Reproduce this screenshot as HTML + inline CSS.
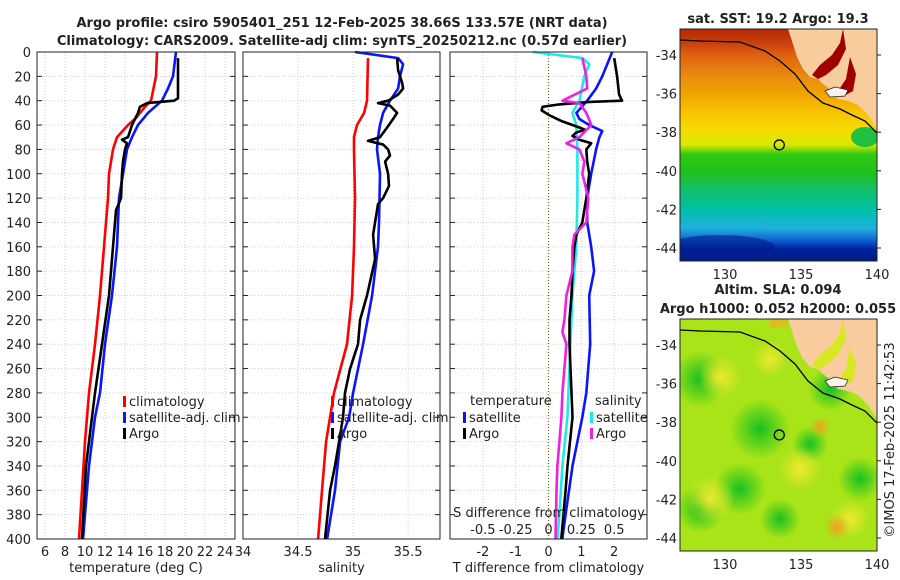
<!DOCTYPE html>
<html><head><meta charset="utf-8">
<style>
html,body{margin:0;padding:0;background:#fff;}
svg{display:block;font-family:"DejaVu Sans","Liberation Sans",sans-serif;}
</style></head>
<body>
<svg id="chart" width="900" height="580" viewBox="0 0 900 580" xmlns="http://www.w3.org/2000/svg">
<defs>
<linearGradient id="sstGrad" x1="0" y1="0" x2="0" y2="1">
<stop offset="0" stop-color="#b82800"/><stop offset="0.06" stop-color="#c84010"/>
<stop offset="0.11" stop-color="#e06010"/><stop offset="0.2" stop-color="#e88a10"/>
<stop offset="0.28" stop-color="#f0a400"/><stop offset="0.36" stop-color="#f8c400"/>
<stop offset="0.44" stop-color="#f4dc00"/><stop offset="0.5" stop-color="#d8e800"/>
<stop offset="0.54" stop-color="#30c810"/><stop offset="0.62" stop-color="#20c020"/>
<stop offset="0.7" stop-color="#10c070"/><stop offset="0.78" stop-color="#00c0a8"/>
<stop offset="0.86" stop-color="#20b0e0"/><stop offset="0.91" stop-color="#1060d0"/>
<stop offset="0.95" stop-color="#0020a0"/><stop offset="1" stop-color="#001c80"/>
</linearGradient>
<radialGradient id="gblob"><stop offset="0" stop-color="#18c020"/><stop offset="1" stop-color="#18c020" stop-opacity="0"/></radialGradient>
<radialGradient id="yblob"><stop offset="0" stop-color="#f0e830"/><stop offset="1" stop-color="#f0e830" stop-opacity="0"/></radialGradient>
<radialGradient id="oblob"><stop offset="0" stop-color="#f0a020"/><stop offset="1" stop-color="#f0a020" stop-opacity="0"/></radialGradient>
</defs>
</svg>
<script>
// ---------------- data ----------------
const depthTicks = [0,20,40,60,80,100,120,140,160,180,200,220,240,260,280,300,320,340,360,380,400];
const tempTicks = [6,8,10,12,14,16,18,20,22,24];
const salTicks = [34,34.5,35,35.5];
const salTickLabels = ["34","34.5","35","35.5"];
const tdiffTicks = [-2,-1,0,1,2];
const sdiffTicks = [-0.5,-0.25,0,0.25,0.5];
const sdiffTickLabels = ["-0.5","-0.25","0","0.25","0.5"];

const tClimDepth = [0,20,40,45,55,60,70,80,100,120,160,200,240,280,320,360,400];
const tClim = [17.2,17.1,16.6,16.0,15.0,14.3,13.2,12.8,12.4,12.3,11.9,11.5,11.0,10.4,10.0,9.7,9.4];
const tSatDepth = [0,20,30,40,50,60,70,80,100,120,160,200,240,280,300,340,400];
const tSat = [19.1,18.8,18.3,17.7,16.3,15.3,14.7,14.2,13.8,13.4,13.2,12.7,12.0,11.5,11.0,10.4,9.8];
const tArgoDepth = [5,20,38,40,42,45,50,60,70,72,75,80,90,100,120,130,160,200,240,280,340,400];
const tArgo = [19.3,19.3,19.3,18.9,16.2,15.5,15.3,14.7,14.3,13.7,14.2,14.0,13.8,13.7,13.6,13.1,12.8,12.4,11.7,11.0,10.1,9.7];

const sClimDepth = [5,40,50,60,70,80,120,160,200,240,280,320,360,400];
const sClim = [35.136,35.127,35.10,35.036,35.009,35.009,35.018,35.009,34.991,34.945,34.827,34.755,34.718,34.682];
const sSatDepth = [0,5,10,20,30,40,50,60,70,80,100,140,160,200,240,280,300,320,360,400];
const sSat = [35.018,35.409,35.455,35.427,35.409,35.336,35.273,35.245,35.227,35.218,35.245,35.236,35.227,35.173,35.091,35.0,34.964,34.882,34.836,34.764];
const sArgoDepth = [5,15,25,30,35,40,42,44,50,55,62,70,73,76,80,85,90,100,110,120,125,150,170,200,220,240,260,280,300,320,340,360,400];
const sArgo = [35.400,35.409,35.445,35.455,35.409,35.318,35.227,35.336,35.400,35.364,35.309,35.245,35.136,35.273,35.318,35.336,35.291,35.318,35.327,35.273,35.227,35.182,35.2,35.127,35.064,35.045,34.973,34.927,34.909,34.873,34.836,34.791,34.745];

const tdSatDepth = [0,20,30,40,50,55,60,65,70,80,100,120,140,160,180,200,240,280,300,340,380,400];
const tdSat = [1.94,1.64,1.45,1.18,0.85,0.94,1.24,1.64,1.55,1.45,1.30,1.18,1.18,1.30,1.39,1.24,1.27,1.15,1.03,0.73,0.52,0.42];
const tdArgoDepth = [5,20,35,40,41,43,45,48,52,57,62,64,66,69,72,75,80,90,100,120,140,150,160,180,200,220,240,280,300,340,360,400];
const tdArgo = [2.0,2.09,2.15,2.24,1.24,0.33,-0.18,-0.21,0.03,0.42,0.94,1.12,0.85,0.73,0.94,1.30,1.15,1.18,1.24,1.15,1.03,0.85,0.79,0.73,0.70,0.64,0.64,0.70,0.73,0.58,0.52,0.39];
const sdSatDepth = [0,5,10,20,40,50,60,80,120,160,180,200,240,300,340,380,400];
const sdSat = [-0.121,0.258,0.311,0.273,0.235,0.182,0.212,0.220,0.220,0.212,0.197,0.182,0.167,0.144,0.106,0.083,0.068];
const sdArgoDepth = [5,20,30,40,42,50,60,70,75,80,90,100,120,140,150,160,180,200,220,230,240,260,280,300,340,360,400];
const sdArgo = [0.258,0.288,0.295,0.106,0.235,0.288,0.326,0.235,0.136,0.235,0.273,0.258,0.303,0.288,0.197,0.182,0.182,0.136,0.121,0.106,0.136,0.121,0.106,0.098,0.068,0.061,0.053];

const latTicks = [-34,-36,-38,-40,-42,-44];
const lonTicks = [130,135,140];
const argoLon = 133.57;
const argoLat = -38.66;

// ---------------- helpers ----------------
const NS = "http://www.w3.org/2000/svg";
const svg = document.getElementById("chart");
function mk(tag, attrs, parent) {
  const e = document.createElementNS(NS, tag);
  for (const k in attrs) e.setAttribute(k, attrs[k]);
  (parent || svg).appendChild(e);
  return e;
}
function txt(s, x, y, size, anchor, weight, parent) {
  const e = mk("text", {x: x, y: y, "font-size": size, "text-anchor": anchor || "middle", "font-weight": weight || "normal", fill: "#222"}, parent);
  e.textContent = s;
  return e;
}
const Y0 = 52, Y1 = 539;
function yD(d) { return Y0 + d * (Y1 - Y0) / 400; }
function lin(d0, d1, r0, r1) { return v => r0 + (v - d0) * (r1 - r0) / (d1 - d0); }

const xT = lin(5.2, 25, 37, 235);
const xS = lin(34, 35.79, 243, 440);
const xTD = lin(-3, 3, 450, 647);
const xSD = lin(-0.75, 0.75, 450, 647);

function panel(name, x0, x1, gridVals, xf, tickLabels, labelVals, title) {
  const g = mk("g", {});
  
  
  gridVals.forEach(v => {
    const gl = mk("line", {x1: xf(v), x2: xf(v), y1: Y0, y2: Y1, stroke: "#c8cde8", "stroke-width": 1, "stroke-dasharray": "1,2"}, g);
    
    
  });
  depthTicks.forEach(d => {
    const gl = mk("line", {x1: x0, x2: x1, y1: yD(d), y2: yD(d), stroke: "#c8cde8", "stroke-width": 1, "stroke-dasharray": "1,2"}, g);
    
    
    const t1 = mk("line", {x1: x0, x2: x0 + 5, y1: yD(d), y2: yD(d), stroke: "#222", "stroke-width": 1}, g);
    
    
    const t2 = mk("line", {x1: x1 - 5, x2: x1, y1: yD(d), y2: yD(d), stroke: "#222", "stroke-width": 1}, g);
    
    
  });
  labelVals.forEach((v, i) => {
    const tl = txt(tickLabels[i], xf(v), 556, 13, "middle", "normal", g);
    
    
  });
  const at = txt(title, (x0 + x1) / 2, 572, 13, "middle", "normal", g);
  
  
  return g;
}
function frame(x0, x1) {
  const r = mk("rect", {x: x0, y: Y0, width: x1 - x0, height: Y1 - Y0, fill: "none", stroke: "#222", "stroke-width": 1});
  
  
}
function series(name, depths, vals, xf, color, parent) {
  const pts = depths.map((d, i) => xf(vals[i]).toFixed(1) + "," + yD(d).toFixed(1)).join(" ");
  const p = mk("polyline", {points: pts, fill: "none", stroke: color, "stroke-width": 2.6, "stroke-linejoin": "round"}, parent);
  
  
  return p;
}
function legendEntry(name, x, y, color, label, parent) {
  const g = mk("g", {}, parent);
  
  
  mk("rect", {x: x, y: y - 10, width: 3, height: 11, fill: color}, g);
  txt(label, x + 6, y, 13, "start", "normal", g);
}

// ---------------- titles ----------------
const t1 = txt("Argo profile: csiro 5905401_251 12-Feb-2025 38.66S 133.57E (NRT data)", 342, 27, 13, "middle", "bold");


const t2 = txt("Climatology: CARS2009. Satellite-adj clim: synTS_20250212.nc (0.57d earlier)", 342, 45, 13, "middle", "bold");



// ---------------- panel 1: temperature ----------------
const p1 = panel("temperature-panel", 37, 235, tempTicks, xT, tempTicks.map(String), tempTicks, "temperature (deg C)");
depthTicks.forEach(d => {
  const l = txt(String(d), 31, yD(d) + 5, 13, "end");
  
  
});
series("temp-climatology-line", tClimDepth, tClim, xT, "#ff0000", p1);
series("temp-satellite-line", tSatDepth, tSat, xT, "#0a14ff", p1);
series("temp-argo-line", tArgoDepth, tArgo, xT, "#000", p1);
frame(37, 235);
legendEntry("legend-climatology", 123, 406, "#ff0000", "climatology");
legendEntry("legend-satellite-adj", 123, 422, "#0a14ff", "satellite-adj. clim");
legendEntry("legend-argo", 123, 438, "#000", "Argo");

// ---------------- panel 2: salinity ----------------
const p2 = panel("salinity-panel", 243, 440, salTicks, xS, salTickLabels, salTicks, "salinity");
series("sal-climatology-line", sClimDepth, sClim, xS, "#ff0000", p2);
series("sal-satellite-line", sSatDepth, sSat, xS, "#0a14ff", p2);
series("sal-argo-line", sArgoDepth, sArgo, xS, "#000", p2);
frame(243, 440);
legendEntry("legend-climatology-2", 331, 406, "#ff0000", "climatology");
legendEntry("legend-satellite-adj-2", 331, 422, "#0a14ff", "satellite-adj. clim");
legendEntry("legend-argo-2", 331, 438, "#000", "Argo");

// ---------------- panel 3: differences ----------------
const p3 = panel("difference-panel", 450, 647, tdiffTicks, xTD, tdiffTicks.map(String), tdiffTicks, "T difference from climatology");
const zl = mk("line", {x1: xTD(0), x2: xTD(0), y1: Y0, y2: Y1, stroke: "#6a6a20", "stroke-width": 1.2, "stroke-dasharray": "1,2"}, p3);


series("tdiff-satellite-line", tdSatDepth, tdSat, xTD, "#0a14ff", p3);
series("sdiff-satellite-line", sdSatDepth, sdSat, xSD, "#20e8e8", p3);
series("tdiff-argo-line", tdArgoDepth, tdArgo, xTD, "#000", p3);
series("sdiff-argo-line", sdArgoDepth, sdArgo, xSD, "#f020e0", p3);
frame(450, 647);
const lt = txt("temperature", 470, 405, 13, "start");


legendEntry("legend-tdiff-satellite", 463, 422, "#0a14ff", "satellite");
legendEntry("legend-tdiff-argo", 463, 438, "#000", "Argo");
const ls = txt("salinity", 595, 405, 13, "start");


legendEntry("legend-sdiff-satellite", 590, 422, "#20e8e8", "satellite");
legendEntry("legend-sdiff-argo", 590, 438, "#f020e0", "Argo");
const sdt = txt("S difference from climatology", 549, 517, 13, "middle");


sdiffTicks.forEach((v, i) => {
  const l = txt(sdiffTickLabels[i], xSD(v), 534, 13, "middle");
  
  
});

// ---------------- maps ----------------
const MX0 = 680, MX1 = 877;
const xLon = lin(127.04, 140, MX0, MX1);
function drawMap(name, top, bottom, kind, title1, title2) {
  const g = mk("g", {});
  
  
  const yLat = lin(-34, -44, top + 26, top + 219);
  const clip = mk("clipPath", {id: "clip-" + name}, g);
  mk("rect", {x: MX0, y: top, width: MX1 - MX0, height: bottom - top}, clip);
  const body = mk("g", {"clip-path": "url(#clip-" + name + ")"}, g);
  if (kind === "sst") {
    mk("rect", {x: MX0, y: top, width: MX1 - MX0, height: bottom - top, fill: "url(#sstGrad)"}, body);
    mk("ellipse", {cx: 720, cy: top + 218, rx: 55, ry: 12, fill: "#001c90", opacity: 0.6}, body);
    mk("ellipse", {cx: 865, cy: top + 108, rx: 14, ry: 10, fill: "#20c040"}, body);
  } else {
    mk("rect", {x: MX0, y: top, width: MX1 - MX0, height: bottom - top, fill: "#a8e418"}, body);
    [[700,60,28],[760,110,30],[740,170,26],[830,70,22],[860,160,22],[700,190,24],[780,200,20],[810,125,18]].forEach(b => {
      mk("circle", {cx: b[0], cy: top + b[1], r: b[2], fill: "url(#gblob)"}, body);
    });
    [[720,58,22],[710,180,24],[800,150,22],[850,200,20],[770,40,18]].forEach(b => {
      mk("circle", {cx: b[0], cy: top + b[1], r: b[2], fill: "url(#yblob)"}, body);
    });
    mk("circle", {cx: 837, cy: top + 208, r: 13, fill: "url(#oblob)"}, body);
    mk("circle", {cx: 820, cy: top + 108, r: 10, fill: "url(#oblob)"}, body);
    mk("rect", {x: 770, y: top, width: 18, height: 8, fill: "#f0b020", opacity: 0.7}, body);
  }
  const land = mk("path", {d: `M788 ${top} L792 ${top+12} L797 ${top+28} L803 ${top+40} L810 ${top+48} L818 ${top+50} L823 ${top+55} L832 ${top+62} L838 ${top+70} L848 ${top+72} L858 ${top+76} L868 ${top+86} L877 ${top+100} L877 ${top} Z`, fill: "#f8cc9c"}, body);
  
  
  const gulfCol = kind === "sst" ? "#a00000" : "#d8e820";
  mk("path", {d: `M843 ${top} L840 ${top+14} L832 ${top+26} L820 ${top+36} L812 ${top+46} L818 ${top+50} L826 ${top+46} L838 ${top+36} L846 ${top+20} Z`, fill: gulfCol}, body);
  mk("path", {d: `M850 ${top+28} L856 ${top+45} L853 ${top+62} L842 ${top+68} L838 ${top+62} L846 ${top+50} Z`, fill: gulfCol}, body);
  mk("path", {d: `M825 ${top+62} L835 ${top+58} L848 ${top+61} L845 ${top+67} L830 ${top+68} Z`, fill: "#f8f4ec", stroke: "#222", "stroke-width": 0.7}, body);
  const coast = mk("polyline", {points: `${MX0},${top+11} 700,${top+12} 740,${top+13} 765,${top+22} 780,${top+32} 795,${top+45} 808,${top+62} 823,${top+74} 840,${top+80} 852,${top+86} 865,${top+92} 877,${top+104}`, fill: "none", stroke: "#000", "stroke-width": 1.3}, body);
  
  
  const mk1 = mk("circle", {cx: xLon(argoLon), cy: yLat(argoLat), r: 5, fill: "none", stroke: "#000", "stroke-width": 1.3}, g);
  
  
  mk("rect", {x: MX0, y: top, width: MX1 - MX0, height: bottom - top, fill: "none", stroke: "#222", "stroke-width": 1}, g);
  latTicks.forEach(v => {
    const l = txt(String(v), 677, yLat(v) + 5, 13, "end", "normal", g);
    
    
    mk("line", {x1: MX1, x2: MX1 + 4, y1: yLat(v), y2: yLat(v), stroke: "#222"}, g);
  });
  lonTicks.forEach(v => {
    const l = txt(String(v), xLon(v), bottom + 18, 13, "middle", "normal", g);
    
    
  });
  const tt = txt(title1, 778, kind === "sst" ? top - 6 : top - 25, 13, "middle", "bold", g);
  
  
  if (title2) {
    const t2b = txt(title2, 778, top - 6, 13, "middle", "bold", g);
    
    
  }
}
drawMap("sst-map", 29, 261, "sst", "sat. SST: 19.2 Argo: 19.3", null);
drawMap("sla-map", 319, 551, "sla", "Altim. SLA: 0.094", "Argo h1000: 0.052 h2000: 0.055");

const cr = txt("©IMOS 17-Feb-2025 11:42:53", 0, 0, 13, "middle");
cr.setAttribute("transform", "translate(894,440) rotate(-90)");


</script>
</body></html>
